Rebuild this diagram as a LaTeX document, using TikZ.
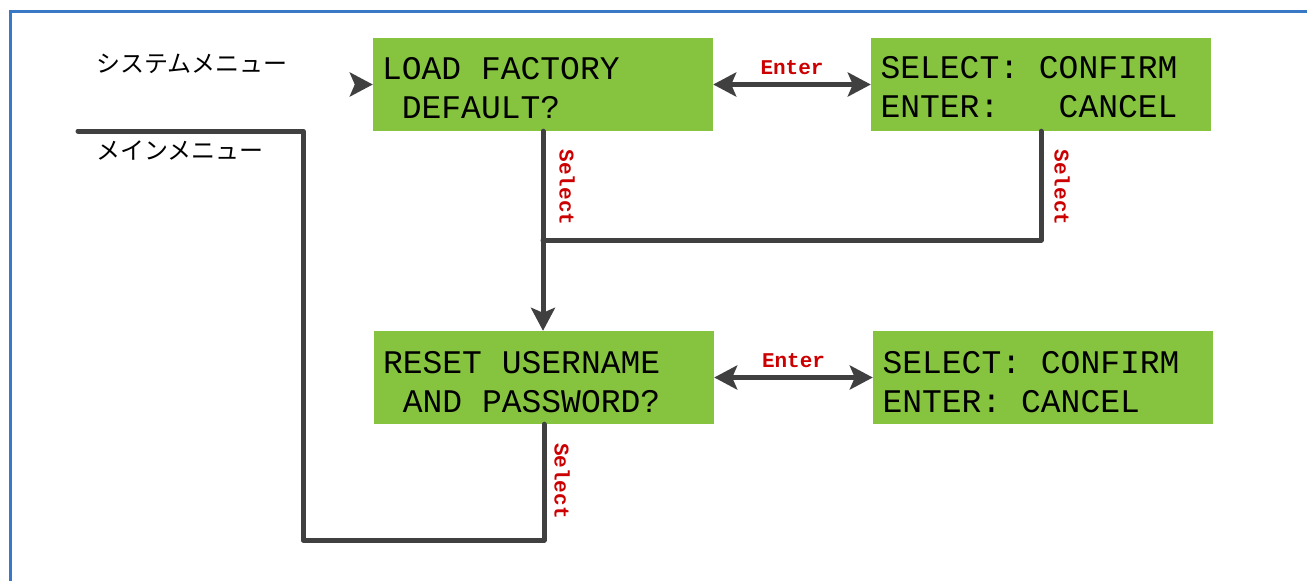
\documentclass[tikz,border=0pt]{standalone}
\usepackage{fontspec}
\setmonofont{Liberation Mono}
\newfontfamily\jpfont{Noto Sans CJK JP}
\usetikzlibrary{arrows.meta}
\definecolor{lcdgreen}{RGB}{134,196,63}
\definecolor{linegray}{RGB}{64,64,64}
\definecolor{lblred}{RGB}{204,0,0}
\definecolor{frameblue}{RGB}{56,120,196}
\begin{document}
\begin{tikzpicture}[x=1pt,y=-1pt,
  lcdbox/.style={rectangle, fill=lcdgreen, draw=none, minimum width=340pt, minimum height=93pt, inner sep=0pt},
  lcdtext/.style={anchor=west, inner sep=0pt, align=left, font=\ttfamily\fontsize{33}{39}\selectfont},
  conn/.style={draw=linegray, line width=5pt, line join=round, line cap=round},
  tipend/.style={-{Stealth[length=23pt,width=24pt,inset=5pt]}},
  tipboth/.style={{Stealth[length=23pt,width=24pt,inset=5pt]}-{Stealth[length=23pt,width=24pt,inset=5pt]}},
  keylbl/.style={inner sep=0pt, text=lblred, font=\ttfamily\bfseries\fontsize{21}{24}\selectfont},
  menulbl/.style={anchor=west, inner sep=0pt, font=\jpfont\fontsize{24}{28}\selectfont}
]
\useasboundingbox (0,0) rectangle (1307,581);
\fill[white] (0,0) rectangle (1307,581);
% frame
\draw[frameblue, line width=3pt] (10.5,581) -- (10.5,11.5) -- (1307,11.5);

% boxes
\node[lcdbox] (b1) at (543,84.5) {};
\node[lcdbox] (b2) at (1041,84.5) {};
\node[lcdbox] (b3) at (544,377.5) {};
\node[lcdbox] (b4) at (1043,377.5) {};

\node[lcdtext] (t1) at ([shift={(9,4)}]b1.west) {LOAD FACTORY\\\phantom{X}DEFAULT?};
\node[lcdtext] (t2) at ([shift={(9.5,3)}]b2.west) {SELECT: CONFIRM\\ENTER:\phantom{XXX}CANCEL};
\node[lcdtext] (t3) at ([shift={(9,4.5)}]b3.west) {RESET USERNAME\\\phantom{X}AND PASSWORD?};
\node[lcdtext] (t4) at ([shift={(9.5,4.5)}]b4.west) {SELECT: CONFIRM\\ENTER: CANCEL};

% menu labels
\node[menulbl] (sysmenu) at (96,63.5) {システムメニュー};
\node[menulbl] (mainmenu) at (96,150.5) {メインメニュー};

% coordinates
\coordinate (sm) at (357,84.5);
\coordinate (j) at (543,240);
\coordinate (c1) at (303,540);
\coordinate (mm) at (78,131);

% connectors
\draw[conn,tipend,line cap=butt] (sm) -- (b1.west);
\draw[conn,tipboth] (b1.east) -- node[keylbl, above=7.5pt] (e1) {Enter} (b2.west);
\draw[conn,tipboth] (b3.east) -- node[keylbl, above=7.5pt] (e2) {Enter} (b4.west);
\draw[conn] (b2.south) |- (j);
\draw[conn,tipend] (b1.south) -- (b1.south |- b3.north);
\draw[conn] (b3.south) |- (c1) |- (mm);

% select labels
\node[keylbl, rotate=-90] (s1) at (567,187.5) {Select};
\node[keylbl, rotate=-90] (s2) at (1062,187.5) {Select};
\node[keylbl, rotate=-90] (s3) at (562,481) {Select};
\end{tikzpicture}
\end{document}
